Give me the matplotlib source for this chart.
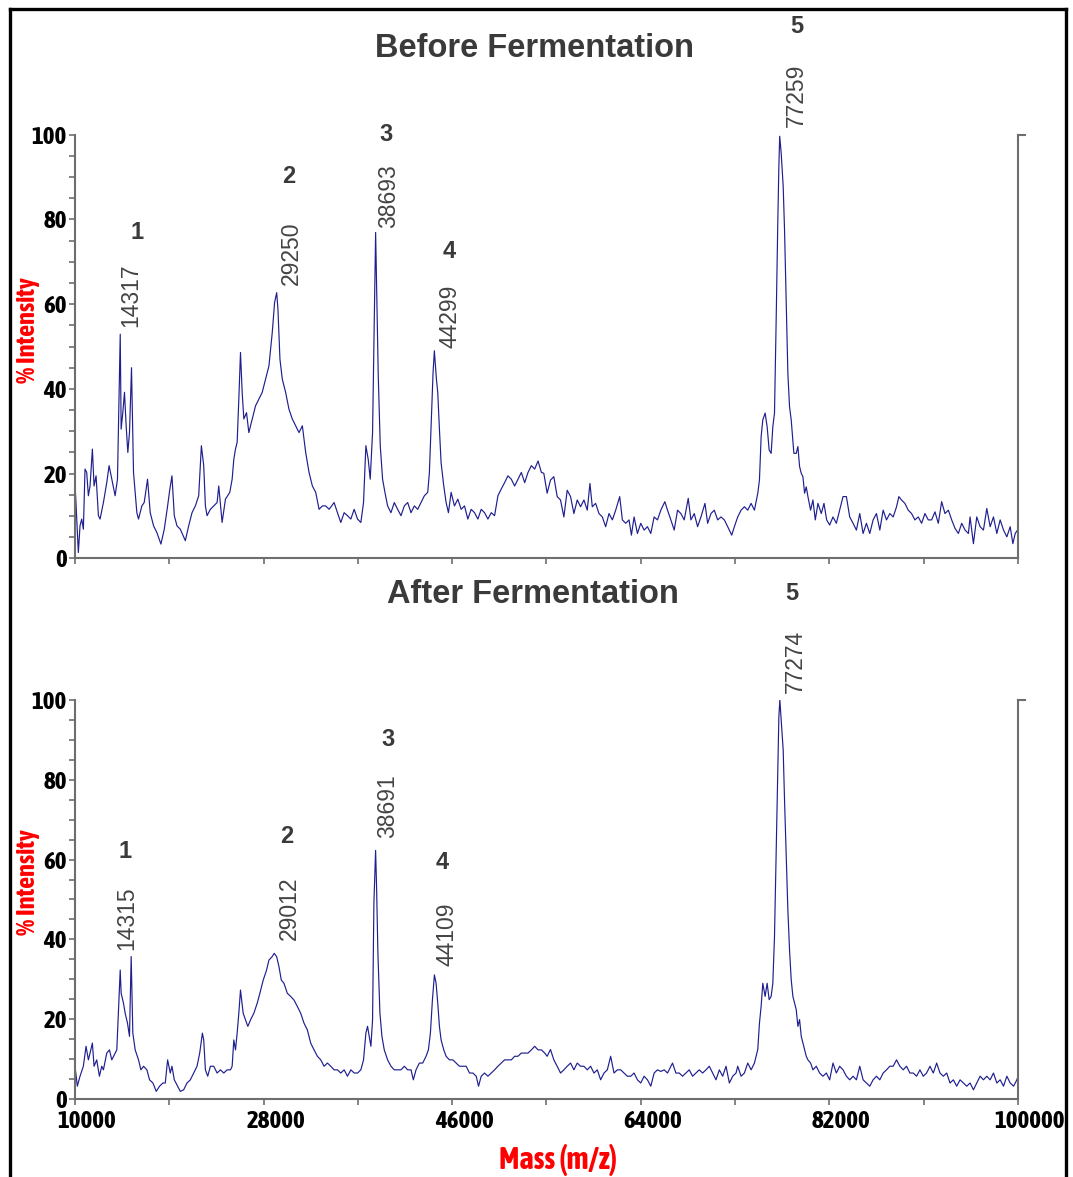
import matplotlib
matplotlib.use("Agg")
import matplotlib.pyplot as plt
from matplotlib import font_manager as fm
from matplotlib import patheffects as pe
from matplotlib.lines import Line2D
from matplotlib.transforms import ScaledTranslation

# ---- data ----
top_mass = [
    10000, 10319, 10479, 10638, 10798, 10957, 11117, 11276, 11436, 11659,
    11819, 12010, 12234, 12393, 12712, 13031, 13255, 13510, 13829, 14053,
    14317, 14404, 14563, 14723, 14882, 15042, 15201, 15393, 15584, 15903,
    16063, 16382, 16605, 16924, 17180, 17499, 17818, 18201, 18520, 18839,
    19031, 19254, 19477, 19733, 20052, 20530, 20849, 21169, 21488, 21807,
    22062, 22285, 22445, 22604, 22924, 23243, 23562, 23721, 24040, 24360,
    24774, 24998, 25157, 25317, 25476, 25636, 25795, 25955, 26115, 26370,
    26593, 26912, 27231, 27551, 27870, 28189, 28508, 28827, 29050, 29250,
    29370, 29561, 29784, 30103, 30422, 30742, 31061, 31380, 31699, 32018,
    32337, 32656, 32975, 33294, 33613, 33933, 34252, 34730, 35049, 35368,
    35688, 36007, 36326, 36645, 36964, 37283, 37539, 37762, 37985, 38177,
    38400, 38560, 38693, 38815, 38943, 39135, 39358, 39581, 39836, 40155,
    40474, 40794, 41113, 41432, 41751, 42070, 42389, 42708, 43027, 43347,
    43666, 43825, 43985, 44176, 44299, 44495, 44622, 44782, 44941, 45197,
    45420, 45643, 45898, 46218, 46537, 46856, 47175, 47494, 47813, 48132,
    48452, 48771, 49090, 49409, 49728, 50047, 50366, 50685, 51004, 51323,
    51643, 51962, 52281, 52600, 52919, 53238, 53557, 53876, 54196, 54515,
    54745, 55064, 55383, 55702, 56021, 56341, 56660, 56979, 57298, 57617,
    57936, 58255, 58574, 58893, 59149, 59372, 59691, 60010, 60329, 60648,
    60968, 61287, 61606, 61989, 62244, 62563, 62882, 63106, 63361, 63680,
    63999, 64318, 64637, 64956, 65275, 65595, 65914, 66297, 66552, 66871,
    67190, 67509, 67828, 68147, 68530, 68786, 69105, 69424, 69743, 70126,
    70381, 70700, 71019, 71338, 71657, 71977, 72296, 72679, 72934, 73253,
    73572, 73891, 74210, 74529, 74848, 75168, 75327, 75487, 75646, 75870,
    76061, 76253, 76444, 76604, 76763, 76923, 77082, 77180, 77259, 77400,
    77592, 77720, 77879, 78039, 78198, 78358, 78613, 78837, 78996, 79156,
    79315, 79475, 79634, 79794, 79954, 80209, 80432, 80656, 80911, 81230,
    81485, 81741, 82028, 82347, 82666, 82985, 83305, 83624, 83943, 84262,
    84581, 84900, 85219, 85538, 85857, 86176, 86496, 86815, 87134, 87453,
    87772, 88091, 88410, 88634, 88889, 89208, 89527, 89846, 90165, 90484,
    90803, 91123, 91442, 91761, 92080, 92399, 92718, 93037, 93356, 93675,
    93994, 94314, 94633, 94952, 95271, 95430, 95749, 96068, 96387, 96706,
    97025, 97345, 97664, 97983, 98302, 98621, 98940, 99259, 99514, 99738,
    99961, 100000,
]
top_int = [
    17.9, 1.4, 7.7, 9.3, 6.9, 21.1, 20.3, 14.8, 17.1, 25.8,
    17.1, 19.5, 10.1, 9.3, 13.2, 17.9, 21.9, 18.7, 14.8, 18.7,
    52.9, 30.5, 34.4, 39.2, 31.3, 25.0, 29.7, 45.0, 20.3, 10.8,
    9.3, 12.4, 13.2, 18.7, 10.8, 7.7, 6.1, 3.4, 6.9, 12.4,
    16.0, 19.5, 10.1, 7.7, 6.9, 4.2, 7.7, 10.8, 12.4, 14.8,
    26.6, 21.9, 12.4, 10.1, 11.6, 12.4, 13.2, 17.1, 8.5, 14.0,
    15.6, 18.7, 23.4, 25.8, 27.4, 37.6, 48.6, 39.2, 32.9, 34.4,
    29.7, 32.9, 36.0, 37.6, 39.2, 42.3, 45.4, 53.3, 60.4, 62.7,
    58.8, 47.0, 42.3, 39.2, 35.2, 32.9, 31.3, 29.7, 31.3, 25.0,
    20.3, 17.1, 15.6, 11.6, 12.4, 12.4, 11.6, 13.2, 10.8, 8.5,
    10.8, 10.1, 9.3, 11.6, 9.3, 8.5, 13.2, 26.6, 23.4, 18.7,
    29.7, 56.4, 76.9, 60.4, 43.1, 26.6, 18.7, 15.6, 12.4, 10.8,
    13.2, 11.6, 10.1, 12.4, 13.2, 10.8, 12.4, 11.6, 13.2, 14.8,
    15.6, 20.3, 31.3, 43.9, 49.0, 42.3, 39.2, 30.5, 22.6, 17.1,
    13.2, 10.8, 15.6, 12.4, 14.0, 11.6, 12.4, 9.3, 11.6, 10.8,
    9.3, 11.6, 10.8, 9.3, 10.8, 10.1, 14.8, 16.4, 17.9, 19.5,
    18.7, 17.1, 18.7, 20.3, 17.9, 20.3, 21.9, 21.1, 23.0, 20.3,
    20.1, 15.4, 18.5, 19.3, 14.6, 13.8, 9.8, 16.1, 14.6, 10.6,
    13.8, 12.2, 13.8, 11.4, 17.7, 12.2, 13.0, 10.6, 9.8, 7.5,
    10.6, 9.1, 11.4, 14.6, 9.1, 8.3, 9.1, 5.5, 9.8, 5.9,
    8.3, 6.7, 7.5, 5.9, 9.8, 9.1, 11.4, 13.4, 11.4, 9.1,
    6.7, 11.4, 10.6, 9.1, 14.2, 9.1, 10.6, 7.5, 9.8, 13.0,
    8.3, 10.6, 11.4, 9.1, 9.8, 9.1, 7.5, 5.5, 7.5, 9.8,
    11.4, 12.2, 11.4, 13.0, 11.4, 15.4, 18.5, 28.7, 32.7, 34.3,
    31.1, 25.6, 24.8, 31.1, 34.3, 56.3, 79.9, 92.5, 99.6, 95.7,
    87.8, 77.6, 60.2, 43.7, 35.8, 32.7, 24.8, 24.8, 26.4, 21.7,
    20.1, 19.3, 15.4, 16.9, 14.6, 11.4, 13.8, 9.1, 13.0, 10.6,
    13.0, 9.1, 7.9, 9.8, 8.3, 11.4, 14.6, 14.6, 9.8, 8.3,
    6.7, 10.6, 5.9, 8.3, 5.9, 9.1, 10.6, 6.7, 11.4, 9.1,
    10.6, 9.8, 12.2, 14.6, 13.8, 13.0, 11.4, 10.6, 9.1, 9.8,
    8.3, 10.6, 9.1, 9.1, 11.0, 8.3, 13.4, 10.6, 11.4, 9.1,
    7.1, 5.9, 8.3, 6.7, 5.9, 9.8, 3.5, 9.8, 7.5, 6.7,
    11.8, 7.5, 9.8, 5.9, 9.1, 6.7, 5.1, 7.5, 3.5, 5.9,
    6.7, 20.9,
]

bot_mass = [
    10000, 10223, 10479, 10798, 11053, 11276, 11436, 11659, 11819, 12074,
    12329, 12553, 12712, 13031, 13287, 13510, 13829, 13989, 14315, 14404,
    14627, 14787, 15010, 15201, 15361, 15520, 15744, 16063, 16286, 16542,
    16861, 17116, 17435, 17754, 18073, 18392, 18616, 18839, 19094, 19254,
    19477, 19796, 20052, 20371, 20690, 21009, 21328, 21647, 21902, 22158,
    22285, 22445, 22668, 22924, 23243, 23562, 23881, 24200, 24519, 24838,
    24998, 25157, 25317, 25476, 25636, 25795, 26050, 26274, 26497, 26753,
    27072, 27391, 27646, 27965, 28284, 28508, 28827, 29012, 29242, 29465,
    29689, 29944, 30263, 30582, 30901, 31220, 31539, 31858, 32178, 32497,
    32816, 33135, 33454, 33773, 34092, 34411, 34730, 35049, 35368, 35688,
    36007, 36326, 36645, 36964, 37283, 37539, 37762, 37922, 38081, 38241,
    38400, 38528, 38691, 38783, 38911, 39103, 39294, 39518, 39837, 40156,
    40475, 40794, 41113, 41432, 41751, 42070, 42293, 42549, 42868, 43187,
    43506, 43729, 43921, 44113, 44304, 44463, 44623, 44782, 44942, 45197,
    45420, 45739, 46058, 46377, 46697, 47016, 47335, 47654, 47973, 48292,
    48515, 48771, 49090, 49409, 49728, 50047, 50366, 50685, 51004, 51324,
    51643, 51962, 52281, 52600, 52919, 53238, 53557, 53876, 54196, 54515,
    54834, 55064, 55383, 55702, 56021, 56341, 56660, 56979, 57298, 57617,
    57936, 58255, 58574, 58893, 59213, 59532, 59851, 60170, 60489, 60808,
    61127, 61446, 61765, 62084, 62404, 62723, 63042, 63361, 63680, 63999,
    64318, 64637, 64956, 65275, 65595, 65914, 66233, 66552, 67030, 67350,
    67669, 67988, 68307, 68626, 68945, 69264, 69583, 69902, 70221, 70541,
    70860, 71179, 71498, 71817, 72136, 72455, 72774, 73093, 73253, 73572,
    73891, 74210, 74529, 74848, 75168, 75327, 75487, 75646, 75870, 76061,
    76253, 76444, 76604, 76763, 76923, 77082, 77180, 77274, 77400, 77592,
    77720, 77879, 78039, 78198, 78358, 78518, 78678, 78837, 78997, 79156,
    79316, 79475, 79635, 79794, 79954, 80209, 80433, 80752, 81071, 81390,
    81709, 82028, 82347, 82666, 82985, 83304, 83624, 83943, 84262, 84581,
    84900, 85219, 85538, 85857, 86176, 86496, 86815, 87134, 87453, 87772,
    88091, 88410, 88729, 89048, 89368, 89687, 90006, 90325, 90644, 90963,
    91282, 91601, 91920, 92240, 92559, 92878, 93197, 93516, 93835, 94154,
    94473, 94792, 95112, 95431, 95750, 96069, 96388, 96707, 97026, 97345,
    97664, 97983, 98302, 98621, 98941, 99260, 99579, 99898, 100000,
]
bot_int = [
    8.2, 3.2, 5.7, 8.2, 13.2, 9.8, 11.5, 14.0, 8.2, 9.8,
    5.7, 8.2, 7.3, 11.5, 12.3, 9.8, 11.5, 12.3, 32.3, 26.5,
    24.0, 21.5, 19.0, 15.7, 35.7, 16.5, 12.3, 9.8, 7.3, 8.2,
    7.3, 4.8, 4.0, 1.9, 3.2, 4.0, 4.0, 9.8, 6.5, 8.2,
    4.8, 3.2, 1.9, 2.3, 4.0, 4.8, 6.5, 8.2, 11.5, 16.5,
    14.8, 7.3, 5.7, 8.2, 8.2, 6.5, 7.3, 6.5, 7.3, 7.3,
    8.2, 14.8, 12.3, 16.5, 21.5, 27.3, 21.5, 19.8, 18.2, 19.8,
    21.5, 24.0, 26.5, 29.8, 32.3, 34.8, 35.7, 36.5, 35.7, 33.2,
    29.8, 29.0, 26.5, 25.7, 24.8, 23.2, 21.5, 19.0, 17.3, 14.0,
    12.3, 10.7, 9.8, 8.2, 9.0, 8.2, 7.3, 7.3, 6.5, 7.3,
    5.7, 7.3, 6.5, 6.5, 7.3, 9.8, 16.5, 18.2, 15.7, 13.2,
    19.8, 49.0, 62.3, 53.2, 36.5, 21.5, 15.7, 12.3, 9.8, 8.2,
    7.3, 7.3, 7.3, 8.2, 7.3, 7.3, 4.8, 7.3, 9.0, 9.0,
    10.7, 12.3, 16.5, 24.8, 31.1, 29.0, 24.0, 18.2, 14.8, 12.3,
    10.7, 9.8, 9.8, 9.0, 8.2, 8.2, 8.2, 6.5, 6.5, 5.7,
    3.2, 5.7, 6.5, 5.7, 6.5, 7.3, 8.2, 9.0, 9.8, 9.8,
    9.8, 10.7, 10.7, 11.5, 11.5, 11.5, 12.3, 13.2, 12.3, 12.3,
    11.5, 10.7, 12.4, 9.8, 8.2, 6.5, 7.3, 8.2, 9.0, 7.3,
    9.0, 8.2, 8.2, 7.3, 8.2, 6.5, 7.3, 4.8, 6.5, 7.3,
    10.7, 6.5, 7.3, 7.3, 6.5, 5.7, 5.7, 6.5, 4.8, 4.0,
    5.7, 4.8, 3.2, 6.5, 7.3, 6.9, 7.3, 6.5, 9.0, 6.5,
    6.5, 5.7, 6.5, 7.3, 5.7, 6.5, 7.3, 6.5, 7.3, 8.2,
    6.5, 4.8, 7.3, 5.7, 8.2, 4.0, 5.7, 6.5, 8.2, 5.7,
    6.5, 9.0, 7.3, 9.0, 12.4, 19.0, 23.2, 29.0, 25.7, 29.0,
    24.9, 25.7, 29.0, 40.7, 61.6, 81.6, 95.8, 100.0, 95.0, 87.5,
    75.0, 60.8, 47.4, 37.4, 29.9, 25.7, 24.0, 22.4, 18.2, 19.9,
    15.7, 14.0, 12.4, 10.7, 9.8, 9.0, 7.3, 8.2, 6.5, 5.7,
    6.5, 4.8, 9.0, 6.5, 8.2, 7.3, 5.7, 4.8, 5.7, 4.8,
    8.2, 4.8, 4.0, 3.2, 4.8, 5.7, 4.8, 6.5, 7.3, 8.2,
    8.2, 9.8, 8.2, 7.3, 8.2, 6.5, 6.5, 5.7, 7.3, 5.7,
    6.5, 8.2, 6.5, 9.0, 6.5, 5.7, 6.5, 4.0, 4.8, 3.2,
    4.8, 4.0, 3.2, 4.0, 2.3, 4.0, 5.7, 4.8, 5.7, 4.8,
    6.5, 4.0, 4.8, 3.2, 5.7, 4.0, 3.2, 4.8, 5.7,
]

peak_ids = ["1", "2", "3", "4", "5"]
top_peak_mass = ["14317", "29250", "38693", "44299", "77259"]
bot_peak_mass = ["14315", "29012", "38691", "44109", "77274"]

# label placement (mass, intensity) for the number and the mass text
top_id_pos = [(15889, 77), (30424, 90), (39682, 100), (45695, 72.3), (78908, 125.4)]
top_txt_pos = [(15316, 54.6), (30681, 64.5), (39968, 78), (45790, 49.6), (78860, 101.8)]
bot_id_pos = [(14801, 62), (30205, 65.7), (39873, 90.2), (45074, 59.3), (78431, 126.8)]
bot_txt_pos = [(14982, 37.3), (30472, 39.8), (39873, 65.4), (45475, 33.2), (78717, 101.8)]


# narrow face for ticks / axis titles: prefer a bold condensed one
def wnum(w):
    if isinstance(w, (int, float)):
        return w
    return fm.weight_dict.get(w, 400)


cands = []
for f in fm.fontManager.ttflist:
    if "Narrow" in f.name or "Condensed" in f.name:
        cands.append((abs(wnum(f.weight) - 700), f.name, wnum(f.weight)))
cands.sort()
narrow = ["Liberation Sans", "DejaVu Sans"]
thicken = []
tick_fs, ylab_fs, xlab_fs = 15.5, 15.5, 18
if cands:
    narrow = [cands[0][1], "DejaVu Sans"]
    tick_fs, ylab_fs, xlab_fs = 18, 19, 22
    if cands[0][2] < 600:
        # only a light face: fatten the strokes a little
        thicken = [pe.withStroke(linewidth=1.3, foreground="black")]

arial = ["Liberation Sans", "DejaVu Sans"]
gray = "#6e6e6e"
line_col = "#1f1f8f"
dark = "#3a3a3a"

fig = plt.figure(figsize=(10.73, 11.77), dpi=100)

ax1 = fig.add_axes([0.0699, 0.5255, 0.8788, 0.3602])
ax2 = fig.add_axes([0.0699, 0.0663, 0.8788, 0.3390])


def style(ax, show_x):
    ax.set_xlim(10000, 100000)
    ax.set_ylim(0, 100)
    ax.spines["top"].set_visible(False)
    for s in ["left", "bottom", "right"]:
        ax.spines[s].set_color(gray)
        ax.spines[s].set_linewidth(1.5)
    ax.set_xticks(range(10000, 100001, 18000))
    ax.set_xticks(range(19000, 100000, 18000), minor=True)
    ax.set_yticks(range(0, 101, 20))
    ax.set_yticks([v for v in range(5, 100, 5) if v % 20 != 0], minor=True)
    ax.tick_params(which="both", direction="out", length=4, width=1.2,
                   color=gray, right=False, top=False)
    ax.tick_params(axis="y", pad=2)
    ax.set_yticklabels([str(v) for v in range(0, 101, 20)],
                       family=narrow, fontsize=tick_fs, fontweight="bold")
    for lbl in ax.get_yticklabels():
        lbl.set_path_effects(thicken)
    if show_x:
        ax.set_xticklabels([str(v) for v in range(10000, 100001, 18000)],
                           family=narrow, fontsize=tick_fs, fontweight="bold")
        ax.tick_params(axis="x", pad=4)
        off = ScaledTranslation(12 / 100, 0, fig.dpi_scale_trans)
        for lbl in ax.get_xticklabels():
            lbl.set_transform(lbl.get_transform() + off)
            lbl.set_path_effects(thicken)
    else:
        ax.set_xticklabels([])
    # little tick on top of the right spine
    ax.plot([1.0, 1.007], [1.0, 1.0], transform=ax.transAxes,
            clip_on=False, color=gray, lw=1.5)


for ax, mass, inten, idp, txp, labels in [
    (ax1, top_mass, top_int, top_id_pos, top_txt_pos, top_peak_mass),
    (ax2, bot_mass, bot_int, bot_id_pos, bot_txt_pos, bot_peak_mass),
]:
    ax.plot(mass, inten, color=line_col, lw=0.85)
    style(ax, ax is ax2)
    for pid, (xi, yi), (xt, yt), lab in zip(peak_ids, idp, txp, labels):
        ax.text(xi, yi, pid, ha="center", va="center", fontsize=17,
                fontweight="bold", color=dark, family=arial)
        ax.text(xt, yt, lab, ha="center", va="bottom", rotation=90,
                fontsize=16.5, color="#444444", family=arial)

fig.text(0.4977, 0.9592, "Before Fermentation", ha="center", va="center",
         fontsize=23.5, fontweight="bold", color=dark, family=arial)
fig.text(0.4967, 0.4945, "After Fermentation", ha="center", va="center",
         fontsize=23.5, fontweight="bold", color=dark, family=arial)

red_fx = [pe.withStroke(linewidth=1.3, foreground="red")] if thicken else []
for yy in [330, 882]:
    fig.text(27 / 1073, 1 - yy / 1177, "% Intensity", rotation=90,
             ha="center", va="center", fontsize=ylab_fs, fontweight="bold",
             color="red", family=narrow, path_effects=red_fx)
fig.text(558 / 1073, 1 - 1160 / 1177, "Mass (m/z)", ha="center", va="center",
         fontsize=xlab_fs, fontweight="bold", color="red", family=narrow,
         path_effects=red_fx)

# outer frame
for xs, ys in [([10 / 1073, 10 / 1073], [0, 1 - 9 / 1177]),
               ([10 / 1073, 1066 / 1073], [1 - 9 / 1177, 1 - 9 / 1177]),
               ([1066 / 1073, 1066 / 1073], [1 - 9 / 1177, 0])]:
    fig.add_artist(Line2D(xs, ys, color="black", lw=2.4,
                          transform=fig.transFigure))

plt.savefig("out.png", dpi=100)
